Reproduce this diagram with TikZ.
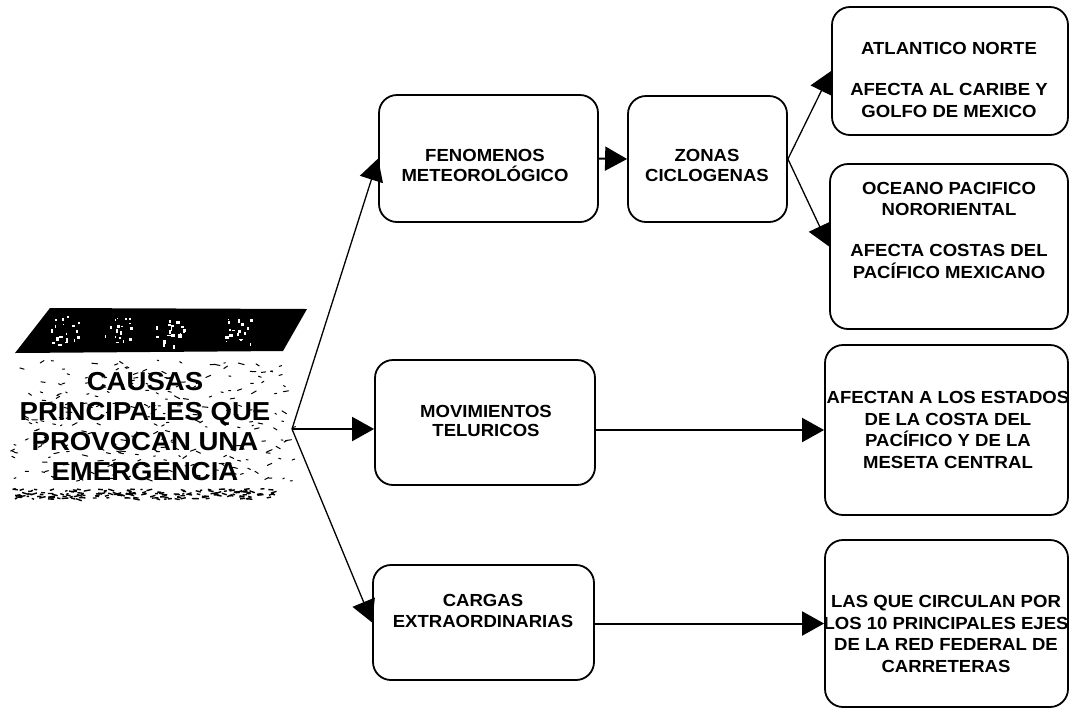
\documentclass[tikz,border=0pt]{standalone}
\usepackage{fontspec}
\setmainfont{Liberation Sans}[FakeStretch=1.06]
\usetikzlibrary{arrows.meta}
\begin{document}
\begin{tikzpicture}[x=1pt,y=-1pt,
  box/.style={draw, line width=1.8pt, rounded corners=18pt, inner sep=0pt},
  txt/.style={font=\bfseries\fontsize{17.5}{21.5}\selectfont, align=center, inner sep=0pt},
  bigtxt/.style={font=\bfseries\fontsize{26}{30}\selectfont, align=center, inner sep=0pt},
  arr/.style={line width=1.3pt, -{Triangle[length=22pt,width=24pt]}},
  harr/.style={line width=2pt, -{Triangle[length=22pt,width=24pt]}},
  speck/.style={line width=1pt, line cap=round}]
\useasboundingbox (0,0) rectangle (1070,716);

% ---- title block: dark slanted top face ----
\fill (50,308) -- (307,309) -- (283,351) -- (15,353) -- cycle;
\pgfmathsetseed{31}
\foreach \cx in {65,118,170,238}{
  \foreach \k in {1,...,18}{
    \pgfmathsetmacro\sx{\cx-14+28*rnd}
    \pgfmathsetmacro\sy{316+30*rnd}
    \pgfmathsetmacro\sw{1+3*rnd}
    \pgfmathsetmacro\sh{1+3*rnd}
    \fill[white] (\sx,\sy) rectangle ++(\sw,\sh);
  }
}

% ---- title block: grainy front face ----
\foreach \k in {1,...,260}{
  \pgfmathsetmacro\sx{8+285*rnd}
  \pgfmathsetmacro\sy{360+122*rnd}
  \pgfmathsetmacro\sl{1.5+4.5*rnd}
  \pgfmathsetmacro\sa{-35+70*rnd}
  \draw[speck] (\sx,\sy) -- ++(\sa:\sl);
}
\foreach \k in {1,...,170}{
  \pgfmathsetmacro\sx{10+262*rnd}
  \pgfmathsetmacro\sy{489+10*rnd}
  \pgfmathsetmacro\sl{2+5*rnd}
  \pgfmathsetmacro\sa{-20+40*rnd}
  \draw[line width=1.4pt] (\sx,\sy) -- ++(\sa:\sl);
}
\node[bigtxt] (causa) at (145,427)
  {CAUSAS\\PRINCIPALES QUE\\PROVOCAN UNA\\EMERGENCIA};
\coordinate (hub) at (292,429);

% ---- boxes ----
\node[box, minimum width=219pt, minimum height=127pt] (fen) at (488.5,158.5) {};
\node[box, minimum width=159pt, minimum height=126pt] (zon) at (707.5,159) {};
\node[box, minimum width=236pt, minimum height=128pt] (atl) at (950,71) {};
\node[box, minimum width=238pt, minimum height=165pt] (oce) at (949,246.5) {};
\node[box, minimum width=220pt, minimum height=125pt] (mov) at (485,422.5) {};
\node[box, minimum width=221pt, minimum height=115pt] (car) at (483.5,622.5) {};
\node[box, minimum width=243pt, minimum height=170pt] (afe) at (946.5,430) {};
\node[box, minimum width=243pt, minimum height=167pt] (las) at (946.5,623.5) {};

% ---- box texts ----
\node[txt] (fen-t) at (485,165) {FENOMENOS\\[-1.5pt]METEOROLÓGICO};
\node[txt] (zon-t) at (707,165) {ZONAS\\[-1.5pt]CICLOGENAS};
\node[txt] (atl-t) at (949,80) {ATLANTICO NORTE\\[19.5pt]AFECTA AL CARIBE Y\\GOLFO DE MEXICO};
\node[txt] (oce-t) at (949,230) {OCEANO PACIFICO\\NORORIENTAL\\[19.5pt]AFECTA COSTAS DEL\\PACÍFICO MEXICANO};
\node[txt] (mov-t) at (486,421) {MOVIMIENTOS\\[-3pt]TELURICOS};
\node[txt] (car-t) at (483,611) {CARGAS\\EXTRAORDINARIAS};
\node[txt] (afe-t) at (948,430) {AFECTAN A LOS ESTADOS\\DE LA COSTA DEL\\PACÍFICO Y DE LA\\MESETA CENTRAL};
\node[txt] (las-t) at (946,634) {LAS QUE CIRCULAN POR\\LOS 10 PRINCIPALES EJES\\DE LA RED FEDERAL DE\\CARRETERAS};

% ---- connectors ----
\draw[arr] (hub) -- (fen.west);
\draw[harr] (hub) -- (hub -| mov.west);
\draw[arr] (hub) -- (car.west);
\draw[harr] (fen.east) -- (zon.west);
\draw[arr] (zon.east) -- (atl.west);
\draw[arr] (zon.east) -- (oce.west);
\draw[harr] (mov.east |- afe.west) -- (afe.west);
\draw[harr] (car.east |- las.west) -- (las.west);
\end{tikzpicture}
\end{document}
